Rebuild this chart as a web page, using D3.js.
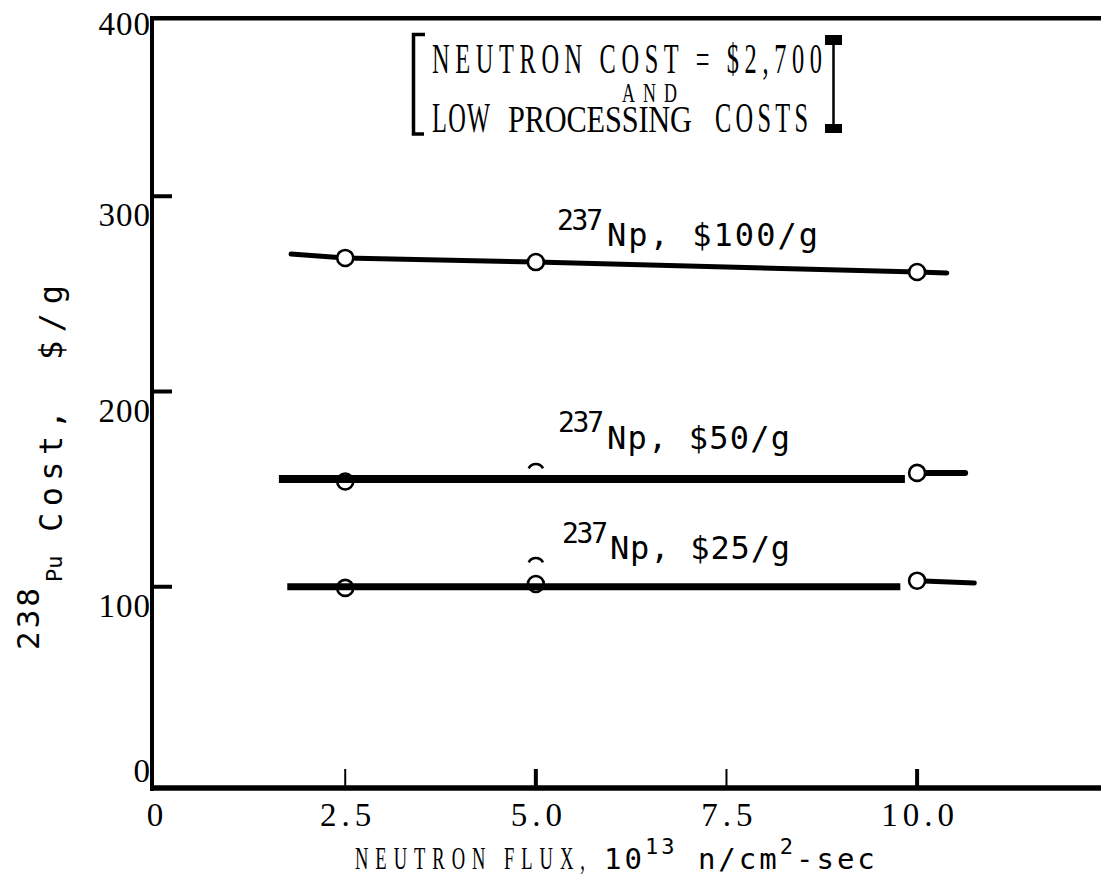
<!DOCTYPE html>
<html><head><meta charset="utf-8">
<script src="https://cdn.jsdelivr.net/npm/d3@7"></script>
<style>body{margin:0;background:#fff} svg{display:block}</style>
</head><body>
<svg id="chart" width="1101" height="875"></svg>
<script>
// ---------------- data ----------------
const xTickValues = [2.5, 5.0, 7.5, 10.0];
const xLabelValues = [0, 2.5, 5.0, 7.5, 10.0];
const xTickLabels = ["0", "2.5", "5.0", "7.5", "10.0"];
const yTickValues = [100, 200, 300];
const yLabelValues = [0, 100, 200, 300, 400];
const yTickLabels = ["0", "100", "200", "300", "400"];

const flux = [2.5, 5.0, 10.0];
// 237Np at $100/g
const cost100 = [268.4, 266.3, 261.2];
const line100 = [[1.79, 270.4], [2.5, 268.4], [5.0, 266.3], [10.0, 261.2], [10.39, 260.7]];
// 237Np at $50/g
const cost50 = [153.9, 158.8, 158.3];
const line50 = [[1.63, 155.2], [9.84, 155.2]];
const tail50 = [[10.0, 158.3], [10.63, 158.3]];
// 237Np at $25/g
const cost25 = [99.4, 101.4, 103.1];
const line25 = [[1.74, 100.0], [9.78, 100.0]];
const tail25 = [[10.0, 103.1], [10.75, 101.9]];
const stray25 = [[5.0, 110.6]];   // partly printed marker (top arc only)

const seriesLabels = ["Np, $100/g", "Np, $50/g", "Np, $25/g"];
const isotopeNp = "237";

// ---------------- layout ----------------
const svg = d3.select("#chart");
svg.append("rect").attr("width", 1101).attr("height", 875).attr("fill", "#fff");
const frame = {left: 152, top: 18.3, bottom: 788, right: 1101};
const x = d3.scaleLinear().domain([0, 10]).range([154.6, 917.1]);
const y = d3.scaleLinear().domain([0, 400]).range([782, 1]);
const SERIF = "'Liberation Serif', 'Times New Roman', serif";
const MONO = "'DejaVu Sans Mono', 'Liberation Mono', monospace";

function condensed(g, str, x0, x1, baseline, size, sx, family) {
  return g.append("text")
    .attr("transform", `translate(${x0},${baseline}) scale(${sx},1)`)
    .attr("font-family", family).attr("font-size", size)
    .attr("textLength", (x1 - x0) / sx).attr("lengthAdjust", "spacing")
    .attr("fill", "#000").text(str);
}

// frame
svg.append("line").attr("x1", frame.left).attr("x2", frame.left).attr("y1", 16).attr("y2", 791)
  .attr("stroke", "#000").attr("stroke-width", 4);
svg.append("line").attr("x1", 150).attr("x2", frame.right).attr("y1", frame.top).attr("y2", frame.top)
  .attr("stroke", "#000").attr("stroke-width", 4.5);
svg.append("line").attr("x1", 150).attr("x2", frame.right).attr("y1", frame.bottom).attr("y2", frame.bottom)
  .attr("stroke", "#000").attr("stroke-width", 5.5);

// y ticks (inward)
svg.selectAll(".ytick").data(yTickValues).enter().append("line")
  .attr("x1", frame.left).attr("x2", frame.left + 20)
  .attr("y1", d => y(d)).attr("y2", d => y(d))
  .attr("stroke", "#000").attr("stroke-width", 4);

// x ticks (inward)
svg.selectAll(".xtick").data(xTickValues).enter().append("line")
  .attr("x1", d => x(d)).attr("x2", d => x(d))
  .attr("y1", frame.bottom).attr("y2", frame.bottom - 19)
  .attr("stroke", "#000").attr("stroke-width", d => (d % 5 === 0 ? 4 : 2));

// y tick labels
svg.selectAll(".ylab").data(yLabelValues).enter().append("text")
  .attr("x", 151).attr("text-anchor", "end")
  .attr("y", d => Math.max(frame.top + 17, Math.min(y(d) + 30, frame.bottom - 6)))
  .attr("font-family", SERIF).attr("font-size", 33).attr("letter-spacing", 1)
  .text((d, i) => yTickLabels[i]);

// x tick labels
svg.selectAll(".xlab").data(xLabelValues).enter().append("text")
  .attr("x", d => x(d) + 3).attr("y", 826).attr("text-anchor", "middle")
  .attr("font-family", SERIF).attr("font-size", 33).attr("letter-spacing", 5)
  .text((d, i) => xTickLabels[i]);

// x axis title
condensed(svg, "NEUTRON FLUX,", 355, 585, 869, 32, 0.58, SERIF);
const xt = svg.append("text").attr("x", 604).attr("y", 869)
  .attr("font-family", MONO).attr("font-size", 29).attr("letter-spacing", 3);
xt.append("tspan").text("10");
xt.append("tspan").attr("dy", -15).attr("font-size", 22).text("13");
xt.append("tspan").attr("dy", 15).text(" n/cm");
xt.append("tspan").attr("dy", -15).attr("font-size", 22).text("2");
xt.append("tspan").attr("dy", 15).text("-sec");

// y axis title (rotated, reads bottom to top)
const yt = svg.append("g").attr("transform", "translate(62,650) rotate(-90)");
yt.append("text").attr("x", 0).attr("y", -23).attr("font-family", MONO).attr("font-size", 31)
  .attr("letter-spacing", 3).text("238");
yt.append("text").attr("x", 68).attr("y", 0).attr("font-family", MONO).attr("font-size", 22)
  .text("Pu");
yt.append("text").attr("x", 118).attr("y", 0).attr("font-family", MONO).attr("font-size", 32)
  .attr("textLength", 122).attr("lengthAdjust", "spacing").text("Cost,");
yt.append("text").attr("x", 290).attr("y", 0).attr("font-family", MONO).attr("font-size", 32)
  .attr("textLength", 75).attr("lengthAdjust", "spacing").text("$/g");

// ---------------- series ----------------
const lineGen = d3.line().x(d => x(d[0])).y(d => y(d[1]));
const R = 8;

// markers partly hidden under the heavy lines
const underMarks = [[flux[0], cost50[0]], [flux[0], cost25[0]], [flux[1], cost25[1]]];
svg.selectAll(".under").data(underMarks).enter().append("circle")
  .attr("cx", d => x(d[0])).attr("cy", d => y(d[1])).attr("r", R)
  .attr("fill", "#fff").attr("stroke", "#000").attr("stroke-width", 2.6);

svg.append("path").datum(line100).attr("d", lineGen).attr("fill", "none")
  .attr("stroke", "#000").attr("stroke-width", 5).attr("stroke-linecap", "round");
svg.append("path").datum(line50).attr("d", lineGen).attr("fill", "none")
  .attr("stroke", "#000").attr("stroke-width", 8);
svg.append("path").datum(line25).attr("d", lineGen).attr("fill", "none")
  .attr("stroke", "#000").attr("stroke-width", 7);
svg.append("path").datum(tail50).attr("d", lineGen).attr("fill", "none")
  .attr("stroke", "#000").attr("stroke-width", 6).attr("stroke-linecap", "round");
svg.append("path").datum(tail25).attr("d", lineGen).attr("fill", "none")
  .attr("stroke", "#000").attr("stroke-width", 5).attr("stroke-linecap", "round");

// markers on top
const topMarks = flux.map((f, i) => [f, cost100[i]]).concat([[flux[2], cost50[2]], [flux[2], cost25[2]]]);
svg.selectAll(".topmark").data(topMarks).enter().append("circle")
  .attr("cx", d => x(d[0])).attr("cy", d => y(d[1])).attr("r", R)
  .attr("fill", "#fff").attr("stroke", "#000").attr("stroke-width", 2.6);

// partly printed markers (top arc only)
const capMarks = [[flux[1], cost50[1]]].concat(stray25);
const capArc = d3.arc().innerRadius(R - 1.3).outerRadius(R + 1.3).startAngle(-1.1).endAngle(1.1);
svg.selectAll(".cap").data(capMarks).enter().append("path")
  .attr("transform", d => `translate(${x(d[0])},${y(d[1])})`).attr("d", capArc()).attr("fill", "#000");

// series labels
const labelPos = [[557, 607, 230, 246, 818], [558, 607, 432, 449, 790], [562, 610, 543, 559, 790]];
seriesLabels.forEach((s, i) => {
  const p = labelPos[i];
  svg.append("text").attr("x", p[0]).attr("y", p[2]).attr("font-family", MONO).attr("font-size", 28)
    .attr("textLength", 46).attr("lengthAdjust", "spacing").text(isotopeNp);
  svg.append("text").attr("x", p[1]).attr("y", p[3]).attr("font-family", MONO).attr("font-size", 32)
    .attr("textLength", p[4] - p[1]).attr("lengthAdjust", "spacing").text(s);
});

// ---------------- annotation box ----------------
svg.append("path").attr("d", "M425,34.5 L413.5,34.5 L413.5,134 L424,134")
  .attr("fill", "none").attr("stroke", "#000").attr("stroke-width", 3.5);
svg.append("line").attr("x1", 833.5).attr("x2", 833.5).attr("y1", 40).attr("y2", 129)
  .attr("stroke", "#000").attr("stroke-width", 2.5);
svg.append("rect").attr("x", 825).attr("y", 35).attr("width", 17).attr("height", 10).attr("fill", "#000");
svg.append("rect").attr("x", 825).attr("y", 124).attr("width", 17).attr("height", 9).attr("fill", "#000");
condensed(svg, "NEUTRON COST = $2,700", 432, 822, 73, 42, 0.58, SERIF);
condensed(svg, "AND", 622, 677, 102, 28, 0.64, SERIF);
condensed(svg, "LOW", 432, 490, 131.5, 42, 0.58, SERIF);
condensed(svg, "PROCESSING", 508, 692, 131.5, 37, 0.82, SERIF);
condensed(svg, "COSTS", 715, 808, 131.5, 42, 0.58, SERIF);
</script>
</body></html>
